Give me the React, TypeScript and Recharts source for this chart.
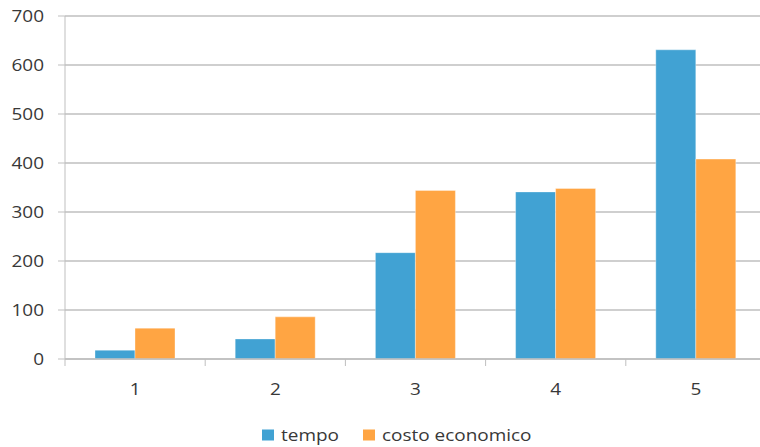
import { BarChart, Bar, XAxis, YAxis, CartesianGrid, Legend } from "recharts";

const categories = ["1", "2", "3", "4", "5"];
const tempo = [18, 41, 217, 341, 631];
const costoEconomico = [63, 86, 344, 348, 408];
const yTicks = [0, 100, 200, 300, 400, 500, 600, 700];
const seriesNames = ["tempo", "costo economico"];

const data = categories.map((name, i) => ({
  name,
  tempo: tempo[i],
  costo: costoEconomico[i],
}));

const FONT = '"Open Sans", sans-serif';
const TEXT = "#383838";
const GRID = "#bfbfbf";
const BLUE = "#41a2d3";
const ORANGE = "#ffa543";
// the reference is a bit stretched sideways, so text gets the same stretch
const STRETCH = 1.2;
const LEGEND_X = [262, 363];

function YTick(props: any) {
  const { x, y, payload } = props;
  return (
    <text
      transform={`translate(${x},${y}) scale(${STRETCH},1)`}
      textAnchor="end"
      dy="0.36em"
      fill={TEXT}
      fontSize={15.8}
      fontFamily={FONT}
    >
      {payload.value}
    </text>
  );
}

function XTick(props: any) {
  const { x, y, payload, index, width, visibleTicksCount } = props;
  const band = width / (visibleTicksCount || categories.length);
  const last = index === (visibleTicksCount || categories.length) - 1;
  return (
    <g>
      <line x1={x - band / 2} x2={x - band / 2} y1={y} y2={y + 7} stroke={GRID} />
      {last && <line x1={x + band / 2} x2={x + band / 2} y1={y} y2={y + 7} stroke={GRID} />}
      <text
        transform={`translate(${x},${y + 36}) scale(${STRETCH},1)`}
        textAnchor="middle"
        fill={TEXT}
        fontSize={15.8}
        fontFamily={FONT}
      >
        {payload.value}
      </text>
    </g>
  );
}

function LegendContent(props: any) {
  const items = [...(props.payload || [])].sort(
    (a: any, b: any) => seriesNames.indexOf(a.value) - seriesNames.indexOf(b.value)
  );
  return (
    <svg width={760} height={27} style={{ display: "block" }}>
      {items.map((p: any, i: number) => (
        <g key={p.value}>
          <rect x={LEGEND_X[i]} y={9.5} width={12} height={11} fill={p.color} />
          <text
            transform={`translate(${LEGEND_X[i] + 19},20.5) scale(${STRETCH},1)`}
            fill={TEXT}
            fontSize={15.8}
            fontFamily={FONT}
          >
            {p.value}
          </text>
        </g>
      ))}
    </svg>
  );
}

export default function App() {
  return (
    <div
      style={{
        position: "absolute",
        top: 0,
        left: 0,
        width: 760,
        height: 447,
        overflow: "hidden",
        background: "#fff",
      }}
    >
      <BarChart
        width={766}
        height={447}
        data={data}
        margin={{ top: 16, right: 0, left: 0, bottom: 0 }}
        barGap={0}
      >
        <CartesianGrid vertical={false} stroke={GRID} strokeWidth={1.3} />
        <XAxis
          dataKey="name"
          height={88}
          axisLine={{ stroke: GRID, strokeWidth: 1.3 }}
          tickLine={false}
          tickSize={0}
          tickMargin={0}
          tick={<XTick />}
          interval={0}
        />
        <YAxis
          width={65}
          domain={[0, 700]}
          ticks={yTicks}
          axisLine={{ stroke: GRID }}
          tickLine={{ stroke: GRID }}
          tickSize={7}
          tickMargin={14}
          tick={<YTick />}
          interval={0}
        />
        <Legend
          verticalAlign="middle"
          align="center"
          wrapperStyle={{ top: 420, left: 0, width: 760 }}
          content={<LegendContent />}
        />
        <Bar
          dataKey="tempo"
          name={seriesNames[0]}
          fill={BLUE}
          stroke="rgba(255,255,255,0.35)"
          barSize={40}
          isAnimationActive={false}
        />
        <Bar
          dataKey="costo"
          name={seriesNames[1]}
          fill={ORANGE}
          stroke="rgba(255,255,255,0.35)"
          barSize={40}
          isAnimationActive={false}
        />
      </BarChart>
    </div>
  );
}
